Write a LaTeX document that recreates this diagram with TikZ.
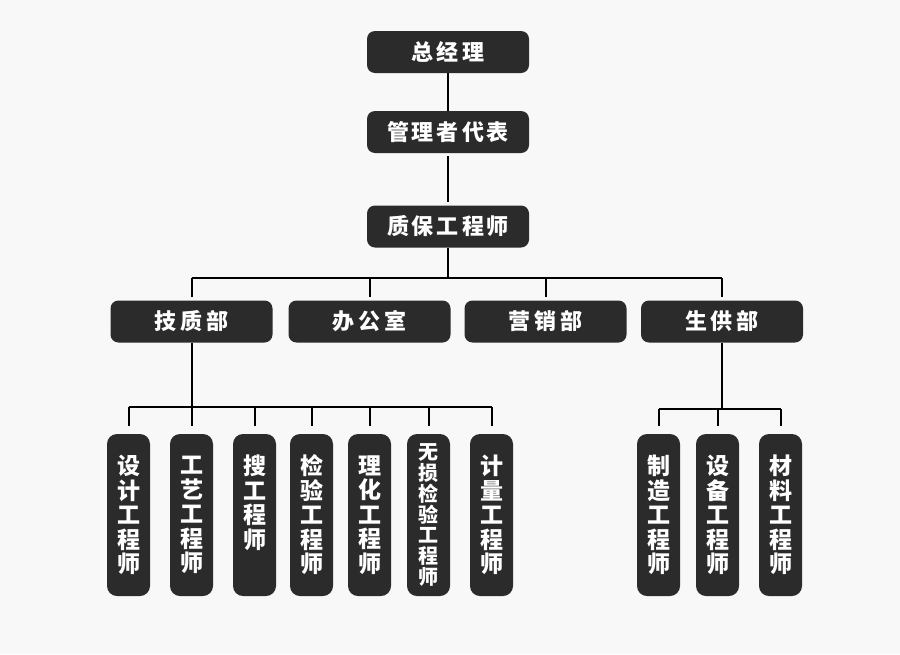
\documentclass[tikz,border=0pt]{standalone}
\usepackage{fontspec}
\newfontfamily\cjk{Noto Sans CJK SC}
\definecolor{bg}{HTML}{F8F8F8}
\definecolor{boxc}{HTML}{2B2B2B}
\tikzset{
  hbox/.style={fill=boxc, rounded corners=8pt, minimum width=162pt, minimum height=42pt, inner sep=0pt,
    text=white, font=\cjk\bfseries\fontsize{22}{24}\selectfont},
  vbox/.style={fill=boxc, rounded corners=10pt, minimum width=43pt, minimum height=162pt, inner sep=0pt},
  vtext/.style={text=white, inner sep=0pt, align=center, font=\cjk\bfseries\fontsize{23}{24.5}\selectfont},
  conn/.style={draw=black, line width=2pt},
}
\newcommand{\ks}{\kern3pt}
\newcommand{\kw}{\kern4pt}
\begin{document}
\begin{tikzpicture}[x=1pt,y=-1pt]
\fill[bg] (0,0) rectangle (900,654);
\useasboundingbox (0,0) rectangle (900,654);
% top chain
\node[hbox] (a) at (448,52) {总\kw 经\kw 理};
\node[hbox] (b) at (448,132) {管\ks 理\ks 者\ks 代\ks 表};
\node[hbox] (c) at (448,226.5) {质\ks 保\ks 工\ks 程\ks 师};
% departments
\node[hbox] (d1) at (191.5,321.5) {技\kw 质\kw 部};
\node[hbox] (d2) at (369.5,321.5) {办\kw 公\kw 室};
\node[hbox] (d3) at (545.5,321.5) {营\kw 销\kw 部};
\node[hbox] (d4) at (722,321.5) {生\kw 供\kw 部};
% engineers under 技质部
\node[vbox] (e1) at (128.5,515) {};
\node[vbox] (e2) at (191.5,515) {};
\node[vbox] (e3) at (254.5,515) {};
\node[vbox] (e4) at (311.5,515) {};
\node[vbox] (e5) at (369.5,515) {};
\node[vbox] (e6) at (428.5,515) {};
\node[vbox] (e7) at (491.5,515) {};
\node[vtext] (t1) at (e1) {设\\计\\工\\程\\师};
\node[vtext] (t2) at (e2) {工\\艺\\工\\程\\师};
\node[vtext,anchor=north] (t3) at (254.5,455) {搜\\工\\程\\师};
\node[vtext] (t4) at (e4) {检\\验\\工\\程\\师};
\node[vtext] (t5) at (e5) {理\\化\\工\\程\\师};
\node[vtext,font=\cjk\bfseries\fontsize{20}{20.7}\selectfont] (t6) at (e6) {无\\损\\检\\验\\工\\程\\师};
\node[vtext] (t7) at (e7) {计\\量\\工\\程\\师};
% engineers under 生供部
\node[vbox] (f1) at (658.5,515) {};
\node[vbox] (f2) at (717.5,515) {};
\node[vbox] (f3) at (780.5,515) {};
\node[vtext] (s1) at (f1) {制\\造\\工\\程\\师};
\node[vtext] (s2) at (f2) {设\\备\\工\\程\\师};
\node[vtext] (s3) at (f3) {材\\料\\工\\程\\师};
% connectors
\coordinate (b1) at (448,278);
\coordinate (b2) at (0,407);
\coordinate (b3) at (0,409);
\draw[conn] (a.south) -- (b.north);
\draw[conn, shorten <=3pt, shorten >=3pt] (b.south) -- (c.north);
\draw[conn] (c.south) -- (b1);
\draw[conn] (d1.north |- b1) -- (d4.north |- b1);
\foreach \n in {d1,d2,d3,d4}{
  \draw[conn, shorten <=3pt] (\n.north) -- (\n.north |- b1);
}
\draw[conn] (d1.south) -- (d1.south |- b2);
\draw[conn] (e1.north |- b2) -- (e7.north |- b2);
\foreach \n in {e1,e2,e3,e4,e5,e6,e7}{
  \draw[conn, shorten <=8pt] (\n.north) -- (\n.north |- b2);
}
\draw[conn] (d4.south) -- (d4.south |- b3);
\draw[conn] (f1.north |- b3) -- (f3.north |- b3);
\foreach \n in {f1,f2,f3}{
  \draw[conn, shorten <=8pt] (\n.north) -- (\n.north |- b3);
}
\end{tikzpicture}
\end{document}
